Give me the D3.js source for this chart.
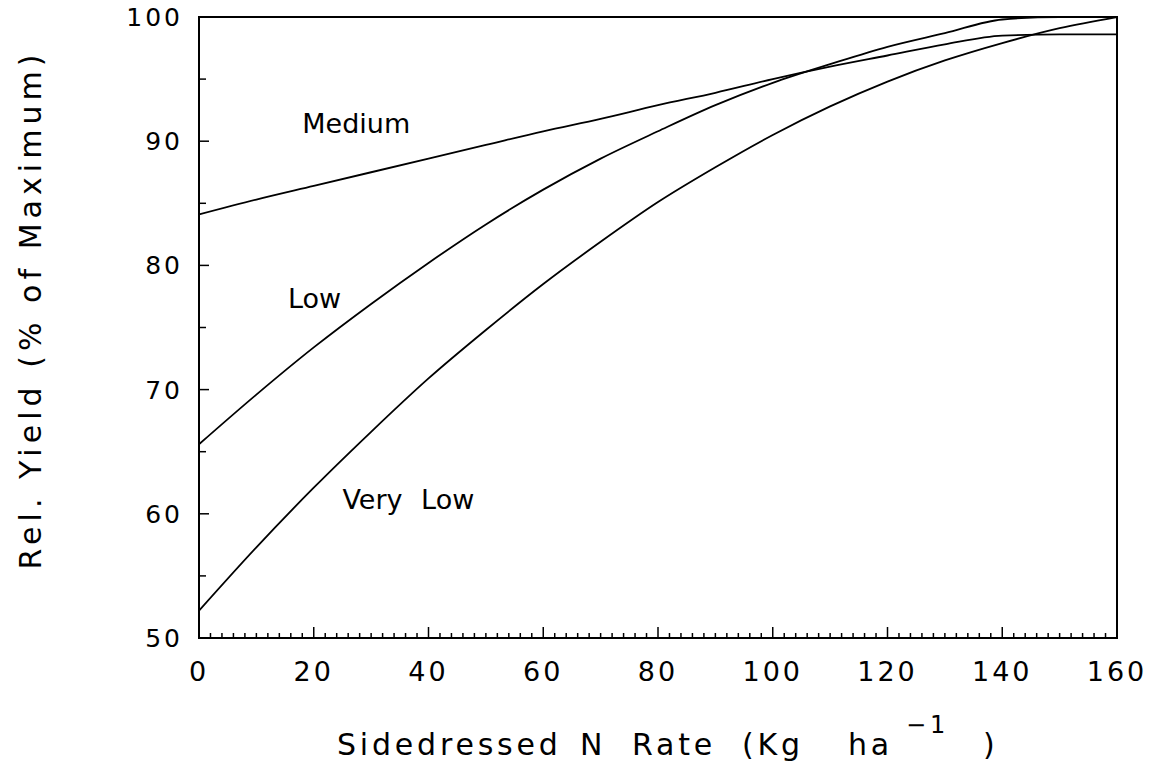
<!DOCTYPE html>
<html>
<head>
<meta charset="utf-8">
<script src="https://cdn.jsdelivr.net/npm/d3@7"></script>
<style>
	body { margin: 0; background: #fff; }
	text { font-family: "DejaVu Sans", sans-serif; fill: #000; }
</style>
</head>
<body>
<div class="chart"></div>
<script>
var w = 1165, h = 762;

// sidedressed N rate (kg/ha) and relative yield for each soil test level
var nRate    = [0, 10, 20, 30, 40, 50, 60, 70, 80, 90, 100, 110, 120, 130, 140, 150, 160];
var medium   = [84.1, 85.3, 86.4, 87.5, 88.6, 89.7, 90.8, 91.8, 92.9, 93.9, 95.0, 96.0, 96.9, 97.8, 98.5, 98.6, 98.6];
var low      = [65.6, 69.6, 73.4, 76.9, 80.2, 83.3, 86.1, 88.6, 90.8, 92.9, 94.7, 96.2, 97.6, 98.7, 99.8, 100, 100];
var veryLow  = [52.2, 57.3, 62.1, 66.6, 70.9, 74.8, 78.5, 81.9, 85.1, 87.9, 90.5, 92.8, 94.8, 96.5, 97.9, 99.1, 100];

var seriesNames = ['Medium', 'Low', 'Very Low'];
var xTicks = [0, 20, 40, 60, 80, 100, 120, 140, 160];
var yTicks = [50, 60, 70, 80, 90, 100];

// label anchor points, in data units
var labelAt = { 'Medium': [18, 90.7], 'Low': [15.5, 76.6], 'Very Low': [25, 60.4] };

// x axis title pieces and where each starts
var xTitle = [
	{ t: 'Sidedressed', at: 337 },
	{ t: 'N', at: 580 },
	{ t: 'Rate', at: 632 },
	{ t: '(Kg', at: 742 },
	{ t: 'ha', at: 848 },
	{ t: '\u22121', at: 906, sup: true },
	{ t: ')', at: 983 }
];

var margin = { left: 199, right: 48, top: 17, bottom: 124 };

var x = d3.scaleLinear().domain([0, 160]).range([margin.left, w - margin.right]);
var y = d3.scaleLinear().domain([50, 100]).range([h - margin.bottom, margin.top]);

var svg = d3.select('.chart').append('svg')
			.attr('width', w)
			.attr('height', h);

// frame
svg.append('rect')
	.attr('x', x(0))
	.attr('y', y(100))
	.attr('width', x(160) - x(0))
	.attr('height', y(50) - y(100))
	.attr('fill', 'none')
	.attr('stroke', '#000')
	.attr('stroke-width', 2);

// x ticks: minor every 2, major every 20, pointing into the plot
svg.selectAll('.xtick')
	.data(d3.range(2, 160, 2))
	.enter()
	.append('line')
	.attr('x1', function(d){ return x(d) })
	.attr('x2', function(d){ return x(d) })
	.attr('y1', y(50))
	.attr('y2', function(d){ return y(50) - (d % 20 === 0 ? 11 : 5) })
	.attr('stroke', '#000')
	.attr('stroke-width', 1.5);

// y ticks every 5
svg.selectAll('.ytick')
	.data(d3.range(55, 100, 5))
	.enter()
	.append('line')
	.attr('y1', function(d){ return y(d) })
	.attr('y2', function(d){ return y(d) })
	.attr('x1', x(0))
	.attr('x2', function(d){ return x(0) + (d % 10 === 0 ? 10 : 7) })
	.attr('stroke', '#000')
	.attr('stroke-width', 1.5);

svg.selectAll('.xlab')
	.data(xTicks)
	.enter()
	.append('text')
	.attr('x', function(d){ return x(d) })
	.attr('y', h - margin.bottom + 43)
	.attr('text-anchor', 'middle')
	.attr('font-size', 27)
	.attr('letter-spacing', 3)
	.text(function(d){ return d });

svg.selectAll('.ylab')
	.data(yTicks)
	.enter()
	.append('text')
	.attr('x', x(0) - 16)
	.attr('y', function(d){ return y(d) + 9 })
	.attr('text-anchor', 'end')
	.attr('font-size', 25)
	.attr('letter-spacing', 3)
	.text(function(d){ return d });

// curves
var series = [medium, low, veryLow];
var line = d3.line()
			.x(function(d, i){ return x(nRate[i]) })
			.y(function(d){ return y(d) })
			.curve(d3.curveMonotoneX);

svg.selectAll('.curve')
	.data(series)
	.enter()
	.append('path')
	.attr('d', line)
	.attr('fill', 'none')
	.attr('stroke', '#000')
	.attr('stroke-width', 1.8);

svg.selectAll('.serieslab')
	.data(seriesNames)
	.enter()
	.append('text')
	.attr('x', function(d){ return x(labelAt[d][0]) })
	.attr('y', function(d){ return y(labelAt[d][1]) })
	.attr('font-size', 27)
	.attr('word-spacing', 10)
	.text(function(d){ return d });

// axis titles
svg.append('text')
	.attr('y', 755)
	.attr('font-size', 30)
	.attr('letter-spacing', 3.8)
	.selectAll('tspan')
	.data(xTitle)
	.enter()
	.append('tspan')
	.attr('x', function(d){ return d.at })
	.attr('y', function(d){ return d.sup ? 733 : 755 })
	.attr('font-size', function(d){ return d.sup ? 24 : 30 })
	.text(function(d){ return d.t });

svg.append('text')
	.attr('transform', 'translate(41,' + 312 + ') rotate(-90)')
	.attr('text-anchor', 'middle')
	.attr('font-size', 30)
	.attr('textLength', 515)
	.attr('lengthAdjust', 'spacing')
	.text('Rel.  Yield  (%  of  Maximum)');
</script>
</body>
</html>
